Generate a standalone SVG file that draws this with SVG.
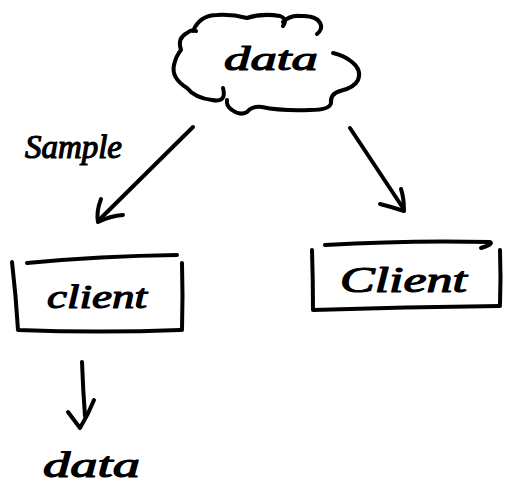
<svg xmlns="http://www.w3.org/2000/svg" width="506" height="491" viewBox="0 0 506 491">
  <style>
    .ink { fill: none; stroke: #000; stroke-width: 4; stroke-linecap: round; stroke-linejoin: round; }
    .hand { font-family: "Liberation Serif", "DejaVu Serif", serif; font-style: italic; fill: #000; stroke: #000; stroke-width: 1.2; stroke-linejoin: round; }
  </style>
  <rect width="506" height="491" fill="#fff"/>

  <!-- cloud: data source -->
  <g id="cloud-data">
    <path class="ink" d="M223,88 Q227,103 212,100 Q195,98 187,88 Q171,78 174,65 Q176,56 181,50 Q177,38 187,33 Q192,29 196,31
                         M193,31 Q200,15 217,15 Q232,14 247,18 Q262,13 280,16 Q288,19 283,26
                         M283,22 Q290,15 300,16 Q318,15 321,25 Q322,30 317,34"/>
    <path class="ink" d="M333,53 Q345,56 352,62 Q362,70 358,80 Q354,88 340,91 Q330,94 331,103 Q330,110 310,110 Q280,111 262,107 Q252,106 247,112 Q240,116 232,110 Q226,106 227,100"/>
    <text class="hand" x="224" y="70" font-size="34" textLength="94" lengthAdjust="spacingAndGlyphs">data</text>
  </g>

  <!-- left client box -->
  <g id="client-left">
    <path class="ink" d="M27,263 Q100,256 177,255"/>
    <path class="ink" d="M12,262 Q16,296 18,330 Q100,333 180,330"/>
    <path class="ink" d="M182,263 Q183,296 182,330"/>
    <text class="hand" x="47" y="308" font-size="34" textLength="100" lengthAdjust="spacingAndGlyphs">client</text>
  </g>

  <!-- right client box -->
  <g id="client-right">
    <path class="ink" d="M325,245 Q410,240 490,242 Q494,244 481,248"/>
    <path class="ink" d="M312,250 Q313,280 313,310 Q405,307 500,306"/>
    <path class="ink" d="M500,250 Q501,278 500,304"/>
    <text class="hand" x="340" y="292" font-size="36" textLength="127" lengthAdjust="spacingAndGlyphs">Client</text>
  </g>

  <!-- edge label and output label -->
  <g id="label-sample">
    <text class="hand" x="25" y="158" font-size="33" textLength="97" lengthAdjust="spacingAndGlyphs">Sample</text>
  </g>
  <g id="data-out">
    <text class="hand" x="43" y="477" font-size="36" textLength="97" lengthAdjust="spacingAndGlyphs">data</text>
  </g>

  <!-- connectors -->
  <g id="connectors">
    <path class="ink" d="M193,127 L98,221"/>
    <path class="ink" d="M101,199 Q96,212 98,222 Q110,216 123,215"/>
    <path class="ink" d="M350,128 L403,208"/>
    <path class="ink" d="M380,204 Q392,207 404,211 Q404,198 401,189"/>
    <path class="ink" d="M82,362 Q83,390 85,416"/>
    <path class="ink" d="M68,412 Q74,420 80,428 Q88,415 94,400"/>
  </g>
</svg>
